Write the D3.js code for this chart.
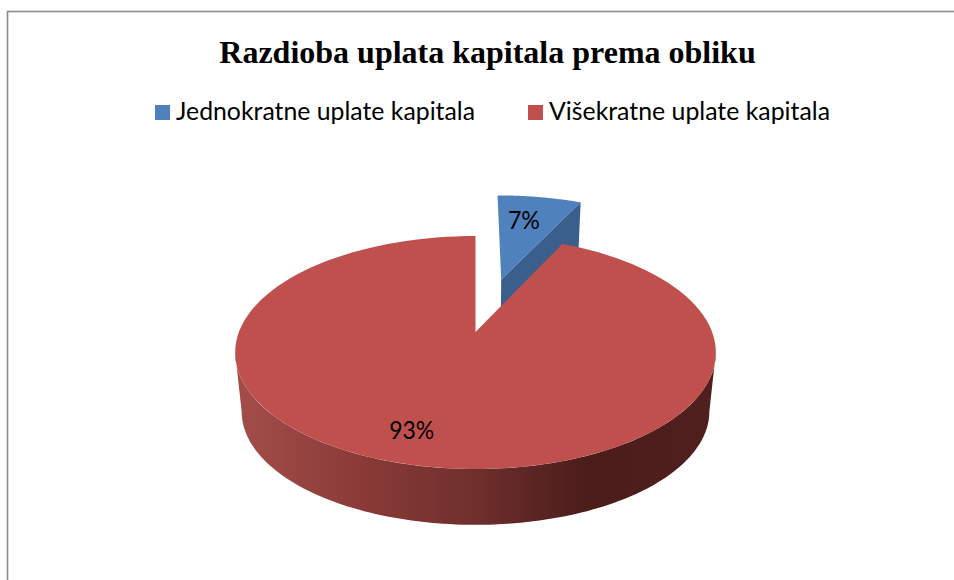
<!DOCTYPE html>
<html><head><meta charset="utf-8">
<script src="https://cdn.jsdelivr.net/npm/d3@7"></script>
<style>html,body{margin:0;padding:0;background:#fff;overflow:hidden}svg{display:block}</style>
</head><body><svg id="c" width="954" height="580"></svg>
<script>
const titleText = "Razdioba uplata kapitala prema obliku";
const categories = ["Jednokratne uplate kapitala", "Višekratne uplate kapitala"];
const values = [7, 93];
const labels = ["7%", "93%"];
const topColors = ["#4f81bd", "#c0504d"];
const sideColors = ["#3a5f8d", "#4f201e"];

const W = 954, H = 580;
const svg = d3.select("#c");
// perspective tilt of the pie plane
const cx = 475.5, cy = 332, A = 236.6, B = 112.9, k = 0.176;
const bottomScale = 0.973, depth = 59.5, explode = 0.52, blueR = 1.03;
const project = (u, v, low) => {
  const s = low ? bottomScale : 1, d = 1 - k * v;
  return [cx + s * A * u / d, cy + (low ? depth : 0) + s * B * v / d];
};
const polar = (a, r, off, low) => project(r * Math.sin(a) + off[0], -r * Math.cos(a) + off[1], low);
const line = d3.line();
const arcPts = (a0, a1, off, low, r = 1) => d3.range(0, 121).map(i => polar(a0 + (a1 - a0) * i / 120, r, off, low));

const arcs = d3.pie().sort(null).value(d => d)(values);
const [blue, red] = arcs;
const mid = d => (d.startAngle + d.endAngle) / 2;
const none = [0, 0];
const blueOff = [Math.sin(mid(blue)) * explode + 0.005, -Math.cos(mid(blue)) * explode];

// gradient for the rim of the big slice
const defs = svg.append("defs");
const grad = defs.append("linearGradient").attr("id", "rim").attr("gradientUnits", "userSpaceOnUse")
  .attr("x1", 238).attr("x2", 712).attr("y1", 0).attr("y2", 0);
[[0, "#a34d49"], [0.25, "#8b3b38"], [0.5, "#6f2f2d"], [0.74, "#4a1c1a"], [1, "#51201e"]]
  .forEach(s => grad.append("stop").attr("offset", s[0]).attr("stop-color", s[1]));

// frame
svg.append("rect").attr("x", 7.5).attr("y", 11.5).attr("width", W + 20).attr("height", H + 20)
  .attr("fill", "#fff").attr("stroke", "#8c8c8c").attr("stroke-width", 1.6);

// title
svg.append("text").attr("x", 487.5).attr("y", 63).attr("text-anchor", "middle")
  .attr("font-family", "'Liberation Serif'").attr("font-weight", "bold").attr("font-size", 32)
  .attr("fill", "#000").text(titleText);

// legend
const legendX = d3.scaleOrdinal().domain(categories).range([155, 528]);
const lg = svg.append("g").selectAll("g").data(categories).join("g")
  .attr("transform", d => `translate(${legendX(d)},105)`);
lg.append("rect").attr("width", 15).attr("height", 15).attr("fill", (d, i) => topColors[i]);
lg.append("text").attr("x", 21).attr("y", 15).attr("font-family", "Lato").attr("font-size", 25)
  .attr("textLength", (d, i) => i ? 281 : 299).attr("lengthAdjust", "spacingAndGlyphs")
  .attr("fill", "#000").text(d => d);

// exploded slice: radial wall then top
const ba = blue.startAngle, bb = blue.endAngle;
svg.append("path").attr("fill", sideColors[0]).attr("d", line([
  polar(0, 0, blueOff), polar(bb, blueR, blueOff), polar(bb, blueR, blueOff, true), polar(0, 0, blueOff, true)
]) + "Z");
svg.append("path").attr("fill", topColors[0]).attr("d", line([polar(0, 0, blueOff), ...arcPts(ba, bb, blueOff, false, blueR)]) + "Z");

// rim of large slice (visible front part between the horizon angles)
const h0 = Math.PI - Math.acos(k), h1 = Math.PI + Math.acos(k);
svg.append("path").attr("fill", "url(#rim)").attr("d",
  line([...arcPts(h0, h1, none), ...arcPts(h0, h1, none, true).reverse()]) + "Z");
// top of large slice
svg.append("path").attr("fill", topColors[1]).attr("d",
  line([polar(0, 0, none), ...arcPts(red.startAngle, red.endAngle, none)]) + "Z");

// data labels
const tb = polar(mid(blue), 0.74, blueOff), tr = polar(mid(red), 0.8, none);
const lab = (p, s, dx, dy, len) => svg.append("text").attr("x", p[0] + dx).attr("y", p[1] + dy)
  .attr("text-anchor", "middle").attr("font-family", "Lato").attr("font-size", 25)
  .attr("textLength", len).attr("lengthAdjust", "spacingAndGlyphs").attr("fill", "#000").text(s);
lab(tb, labels[0], -6, 11, 32);
lab(tr, labels[1], -16, 5, 45);
</script></body></html>
